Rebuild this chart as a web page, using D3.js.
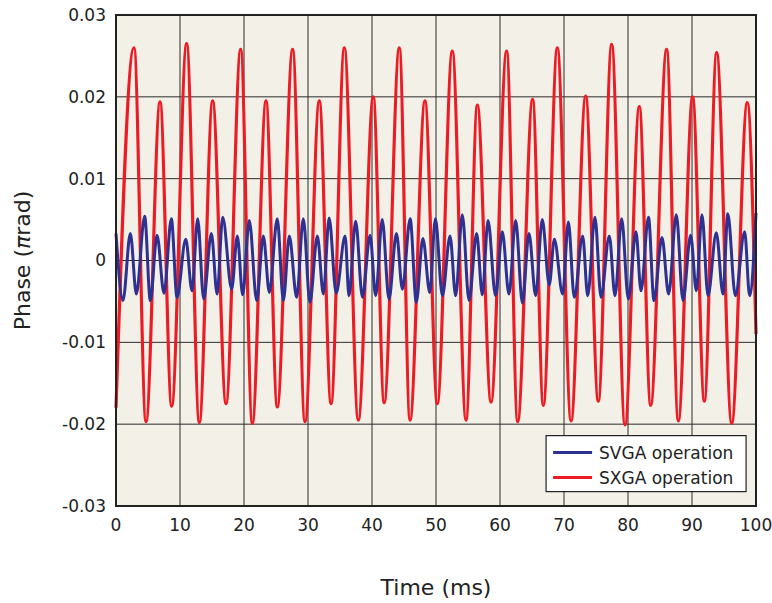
<!DOCTYPE html>
<html>
<head>
<meta charset="utf-8">
<script src="https://cdn.jsdelivr.net/npm/d3@7"></script>
<style>
  html, body { margin: 0; padding: 0; background: #fff; }
  svg text { font-family: "DejaVu Sans", Verdana, sans-serif; fill: #222; }
</style>
</head>
<body>
<div id="chart"></div>
<script>
/* Phase ripple vs time, SVGA and SXGA operation.
   Values are peak / trough readings; the line
   is drawn through them with a monotone curve. */

const xTicks = [0, 10, 20, 30, 40, 50, 60, 70, 80, 90, 100];
const yTicks = [0.03, 0.02, 0.01, 0, -0.01, -0.02, -0.03];
const yTickLabels = ["0.03", "0.02", "0.01", "0", "-0.01", "-0.02", "-0.03"];
const seriesNames = ["SVGA operation", "SXGA operation"];

// SVGA: time (ms) and phase (pi rad)
const svgaTime = [0, 1.09, 2.24, 3.18, 4.48, 5.36, 6.41, 7.5, 8.65, 9.53, 10.9, 11.88, 12.76, 13.7, 14.9, 15.8,
  16.67, 18.07, 18.96, 19.79, 20.83, 21.98, 23.02, 23.96, 25.2, 26.15, 27.08, 28.23, 29.27, 30.3, 31.46, 32.4,
  33.3, 34.4, 35.8, 36.4, 37.45, 38.5, 39.7, 40.57, 41.6, 42.65, 43.82, 44.75, 45.96, 46.92, 47.95, 49.03,
  49.9, 51.0, 52.19, 53.07, 54.11, 55.16, 56.35, 57.24, 58.13, 59.3, 60.36, 61.4, 62.45, 63.5, 64.53, 65.57,
  66.6, 67.7, 68.49, 69.79, 70.68, 71.61, 72.92, 73.7, 74.84, 75.78, 77.08, 77.97, 79.01, 80.05, 81.25, 82.03,
  83.2, 84.06, 85.31, 86.35, 87.55, 88.59, 89.79, 90.68, 91.56, 92.5, 93.8, 94.84, 95.6, 96.77, 98.23, 99.0, 100];
const svgaPhase = [0.0033, -0.0049, 0.0033, -0.0041, 0.0054, -0.0049, 0.0031, -0.0040, 0.0051, -0.0045, 0.0026, -0.0037, 0.0051, -0.0047, 0.0033, -0.0041,
  0.0053, -0.0035, 0.0030, -0.0042, 0.0049, -0.0049, 0.0030, -0.0039, 0.0051, -0.0049, 0.0030, -0.0045, 0.0051, -0.0051, 0.0030, -0.0041,
  0.0052, -0.0040, 0.0030, -0.0043, 0.0048, -0.0045, 0.0031, -0.0043, 0.0050, -0.0047, 0.0033, -0.0035, 0.0051, -0.0051, 0.0027, -0.0039,
  0.0051, -0.0043, 0.0030, -0.0043, 0.0056, -0.0049, 0.0033, -0.0042, 0.0049, -0.0043, 0.0035, -0.0041, 0.0049, -0.0052, 0.0033, -0.0043,
  0.0050, -0.0030, 0.0026, -0.0041, 0.0047, -0.0045, 0.0030, -0.0043, 0.0053, -0.0045, 0.0030, -0.0043, 0.0051, -0.0047, 0.0035, -0.0037,
  0.0053, -0.0049, 0.0028, -0.0041, 0.0056, -0.0049, 0.0031, -0.0037, 0.0056, -0.0043, 0.0034, -0.0041, 0.0057, -0.0043, 0.0035, -0.0043, 0.0058];

// SXGA: time (ms) and phase (pi rad)
const sxgaTime = [0, 2.81, 4.69, 6.88, 8.70, 11.04, 13.02, 15.10, 17.19, 19.48, 21.30, 23.44, 25.20, 27.60, 29.53, 31.77,
  33.60, 35.68, 37.86, 40.20, 41.90, 44.27, 45.94, 48.28, 50.20, 52.55, 54.69, 56.46, 58.60, 61.04, 62.76, 65.10,
  66.77, 68.96, 71.10, 73.39, 75.36, 77.45, 79.53, 81.77, 83.54, 86.04, 87.86, 90.10, 91.93, 93.85, 96.20, 98.64, 100];
const sxgaPhase = [-0.0180, 0.0260, -0.0197, 0.0194, -0.0178, 0.0265, -0.0198, 0.0195, -0.0175, 0.0258, -0.0199, 0.0195, -0.0179, 0.0258, -0.0197, 0.0195,
  -0.0175, 0.0260, -0.0195, 0.0200, -0.0174, 0.0260, -0.0195, 0.0195, -0.0175, 0.0256, -0.0195, 0.0190, -0.0173, 0.0256, -0.0197, 0.0197,
  -0.0177, 0.0260, -0.0196, 0.0201, -0.0172, 0.0264, -0.0201, 0.0188, -0.0177, 0.0258, -0.0196, 0.0200, -0.0172, 0.0254, -0.0199, 0.0193, -0.0090];

const colors = { svga: "#2e3192", sxga: "#ed1c24" };

const W = 772, H = 603;
const margin = { top: 15, right: 16, bottom: 97, left: 116 };
const innerW = W - margin.left - margin.right;
const innerH = H - margin.top - margin.bottom;

const svg = d3.select("#chart").append("svg").attr("width", W).attr("height", H);
const g = svg.append("g").attr("transform", `translate(${margin.left},${margin.top})`);

const x = d3.scaleLinear().domain([0, 100]).range([0, innerW]);
const y = d3.scaleLinear().domain([-0.03, 0.03]).range([innerH, 0]);

// plot background
g.append("rect").attr("width", innerW).attr("height", innerH).attr("fill", "#f3f1e7");

// grid
g.append("g").selectAll("line").data(xTicks.slice(1, -1)).join("line")
  .attr("x1", (d) => x(d)).attr("x2", (d) => x(d)).attr("y1", 0).attr("y2", innerH)
  .attr("stroke", "#2a2a2a").attr("stroke-width", 1);
g.append("g").selectAll("line").data(yTicks.slice(1, -1)).join("line")
  .attr("y1", (d) => y(d)).attr("y2", (d) => y(d)).attr("x1", 0).attr("x2", innerW)
  .attr("stroke", "#2a2a2a").attr("stroke-width", 1);

// tick labels
g.append("g").selectAll("text").data(xTicks).join("text")
  .attr("x", (d) => x(d)).attr("y", innerH + 25)
  .attr("text-anchor", "middle").attr("font-size", 17).text((d) => d);
g.append("g").selectAll("text").data(yTicks).join("text")
  .attr("x", -10).attr("y", (d) => y(d)).attr("dy", "0.35em")
  .attr("text-anchor", "end").attr("font-size", 17).text((d, i) => yTickLabels[i]);

// series
const line = d3.line().curve(d3.curveMonotoneX).x((d) => x(d[0])).y((d) => y(d[1]));
const plot = g.append("g");
plot.append("path").datum(sxgaTime.map((t, i) => [t, sxgaPhase[i]]))
  .attr("d", line).attr("fill", "none").attr("stroke", colors.sxga).attr("stroke-width", 3.2);
plot.append("path").datum(svgaTime.map((t, i) => [t, svgaPhase[i]]))
  .attr("d", line).attr("fill", "none").attr("stroke", colors.svga).attr("stroke-width", 3);

// frame
g.append("rect").attr("width", innerW).attr("height", innerH)
  .attr("fill", "none").attr("stroke", "#222").attr("stroke-width", 2);

// legend
const lg = g.append("g").attr("transform", `translate(${x(67.2)},${y(-0.0214)})`);
lg.append("rect").attr("width", 200).attr("height", 56).attr("fill", "#fff")
  .attr("stroke", "#222").attr("stroke-width", 1.2);
[["svga", seriesNames[0]], ["sxga", seriesNames[1]]].forEach(([k, name], i) => {
  const yy = 17 + i * 25;
  lg.append("line").attr("x1", 7).attr("x2", 46).attr("y1", yy).attr("y2", yy)
    .attr("stroke", colors[k]).attr("stroke-width", 3);
  lg.append("text").attr("x", 53).attr("y", yy).attr("dy", "0.35em")
    .attr("font-size", 17).text(name);
});

// axis titles
svg.append("text").attr("x", margin.left + innerW / 2).attr("y", 595)
  .attr("text-anchor", "middle").attr("font-size", 22).text("Time (ms)");
const yt = svg.append("text").attr("transform", `translate(30,${margin.top + innerH / 2}) rotate(-90)`)
  .attr("text-anchor", "middle").attr("font-size", 22);
yt.append("tspan").text("Phase (");
yt.append("tspan").attr("font-style", "italic").text("π");
yt.append("tspan").text("rad)");
</script>
</body>
</html>
